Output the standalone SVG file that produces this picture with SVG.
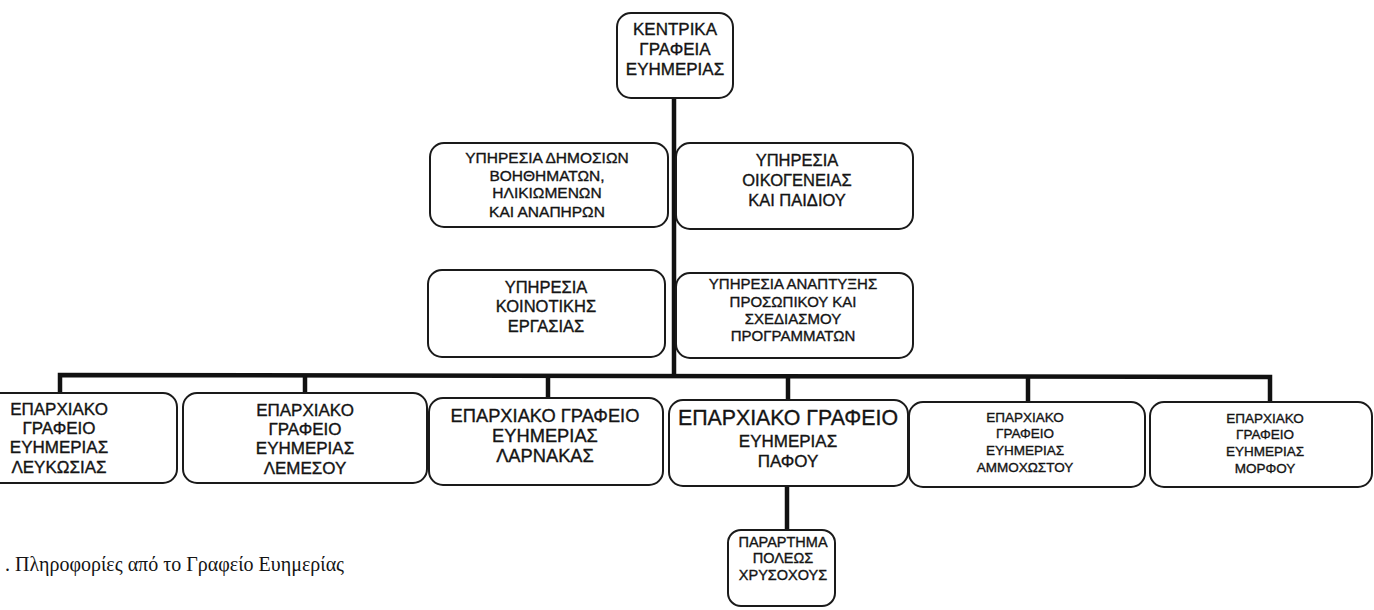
<svg xmlns="http://www.w3.org/2000/svg" width="1374" height="610" viewBox="0 0 1374 610">
<style>
.box{fill:#fff;stroke:#1a1a1a;stroke-width:2}
.t{font-family:"Liberation Sans",Arial,sans-serif;fill:#141414;stroke:#141414;stroke-width:0.35;text-anchor:middle}
.link{stroke:#111;stroke-width:4.5;fill:none}
.cap{font-family:"Liberation Serif","Times New Roman",serif;fill:#141414;font-size:20px}
</style>
<rect width="1374" height="610" fill="#fff"/>
<g id="connectors">
<line class="link" x1="674" y1="98" x2="674" y2="377"/>
<polyline class="link" points="60,393 60,375 1270,377 1270,402"/>
<line class="link" x1="305" y1="375" x2="305" y2="393"/>
<line class="link" x1="548" y1="376" x2="548" y2="398"/>
<line class="link" x1="788" y1="376" x2="788" y2="400"/>
<line class="link" x1="1028" y1="377" x2="1028" y2="402"/>
<line class="link" x1="787" y1="486" x2="787" y2="530"/>
</g>
<g id="n-kentrika">
<rect class="box" x="617" y="13" width="116" height="85" rx="14"/>
<text class="t" font-size="17" x="675" y="35">ΚΕΝΤΡΙΚΑ</text>
<text class="t" font-size="17" x="675" y="55">ΓΡΑΦΕΙΑ</text>
<text class="t" font-size="17" x="675" y="75">ΕΥΗΜΕΡΙΑΣ</text>
</g>
<g id="n-dimosion">
<rect class="box" x="430" y="143" width="238" height="84" rx="14"/>
<text class="t" font-size="15.5" x="547" y="163">ΥΠΗΡΕΣΙΑ ΔΗΜΟΣΙΩΝ</text>
<text class="t" font-size="15.5" x="547" y="181">ΒΟΗΘΗΜΑΤΩΝ,</text>
<text class="t" font-size="15.5" x="547" y="198">ΗΛΙΚΙΩΜΕΝΩΝ</text>
<text class="t" font-size="15.5" x="547" y="217">ΚΑΙ ΑΝΑΠΗΡΩΝ</text>
</g>
<g id="n-oikogeneias">
<rect class="box" x="676" y="143" width="237" height="86" rx="14"/>
<text class="t" font-size="16.5" x="797" y="166">ΥΠΗΡΕΣΙΑ</text>
<text class="t" font-size="16.5" x="797" y="186">ΟΙΚΟΓΕΝΕΙΑΣ</text>
<text class="t" font-size="16.5" x="797" y="206">ΚΑΙ ΠΑΙΔΙΟΥ</text>
</g>
<g id="n-koinotikis">
<rect class="box" x="428" y="270" width="237" height="87" rx="14"/>
<text class="t" font-size="16.5" x="546" y="293">ΥΠΗΡΕΣΙΑ</text>
<text class="t" font-size="16.5" x="546" y="312">ΚΟΙΝΟΤΙΚΗΣ</text>
<text class="t" font-size="16.5" x="546" y="332">ΕΡΓΑΣΙΑΣ</text>
</g>
<g id="n-anaptyxis">
<rect class="box" x="676" y="273" width="237" height="85" rx="14"/>
<text class="t" font-size="15" x="793" y="289">ΥΠΗΡΕΣΙΑ ΑΝΑΠΤΥΞΗΣ</text>
<text class="t" font-size="15" x="793" y="307">ΠΡΟΣΩΠΙΚΟΥ ΚΑΙ</text>
<text class="t" font-size="15" x="793" y="324">ΣΧΕΔΙΑΣΜΟΥ</text>
<text class="t" font-size="15" x="793" y="341">ΠΡΟΓΡΑΜΜΑΤΩΝ</text>
</g>
<g id="n-lefkosias">
<rect class="box" x="-20" y="393" width="197" height="90" rx="14"/>
<text class="t" font-size="17" x="59" y="415">ΕΠΑΡΧΙΑΚΟ</text>
<text class="t" font-size="17" x="59" y="434">ΓΡΑΦΕΙΟ</text>
<text class="t" font-size="17" x="59" y="453">ΕΥΗΜΕΡΙΑΣ</text>
<text class="t" font-size="17" x="59" y="473">ΛΕΥΚΩΣΙΑΣ</text>
</g>
<g id="n-lemesou">
<rect class="box" x="183" y="393" width="244" height="90" rx="14"/>
<text class="t" font-size="17" x="305" y="416">ΕΠΑΡΧΙΑΚΟ</text>
<text class="t" font-size="17" x="305" y="435">ΓΡΑΦΕΙΟ</text>
<text class="t" font-size="17" x="305" y="454">ΕΥΗΜΕΡΙΑΣ</text>
<text class="t" font-size="17" x="305" y="474">ΛΕΜΕΣΟΥ</text>
</g>
<g id="n-larnakas">
<rect class="box" x="429" y="398" width="234" height="87" rx="14"/>
<text class="t" font-size="18.3" x="545" y="422">ΕΠΑΡΧΙΑΚΟ ΓΡΑΦΕΙΟ</text>
<text class="t" font-size="18.3" x="545" y="442">ΕΥΗΜΕΡΙΑΣ</text>
<text class="t" font-size="18.3" x="545" y="462">ΛΑΡΝΑΚΑΣ</text>
</g>
<g id="n-pafou">
<rect class="box" x="669" y="400" width="239" height="86" rx="14"/>
<text class="t" font-size="21.3" x="788" y="425">ΕΠΑΡΧΙΑΚΟ ΓΡΑΦΕΙΟ</text>
<text class="t" font-size="17" x="788" y="447">ΕΥΗΜΕΡΙΑΣ</text>
<text class="t" font-size="17" x="788" y="467">ΠΑΦΟΥ</text>
</g>
<g id="n-ammochostou">
<rect class="box" x="909" y="402" width="236" height="85" rx="14"/>
<text class="t" font-size="13.5" x="1025" y="422">ΕΠΑΡΧΙΑΚΟ</text>
<text class="t" font-size="13.5" x="1025" y="438">ΓΡΑΦΕΙΟ</text>
<text class="t" font-size="13.5" x="1025" y="455">ΕΥΗΜΕΡΙΑΣ</text>
<text class="t" font-size="13.5" x="1025" y="472">ΑΜΜΟΧΩΣΤΟΥ</text>
</g>
<g id="n-morfou">
<rect class="box" x="1150" y="402" width="222" height="85" rx="14"/>
<text class="t" font-size="13.5" x="1265" y="423">ΕΠΑΡΧΙΑΚΟ</text>
<text class="t" font-size="13.5" x="1265" y="439">ΓΡΑΦΕΙΟ</text>
<text class="t" font-size="13.5" x="1265" y="456">ΕΥΗΜΕΡΙΑΣ</text>
<text class="t" font-size="13.5" x="1265" y="473">ΜΟΡΦΟΥ</text>
</g>
<g id="n-chrysochous">
<rect class="box" x="728" y="530" width="107" height="76" rx="13"/>
<text class="t" font-size="14.5" x="783" y="547">ΠΑΡΑΡΤΗΜΑ</text>
<text class="t" font-size="14.5" x="783" y="563">ΠΟΛΕΩΣ</text>
<text class="t" font-size="14.5" x="783" y="580">ΧΡΥΣΟΧΟΥΣ</text>
</g>
<text class="cap" x="5" y="571">. Πληροφορίες από το Γραφείο Ευημερίας</text>
</svg>
